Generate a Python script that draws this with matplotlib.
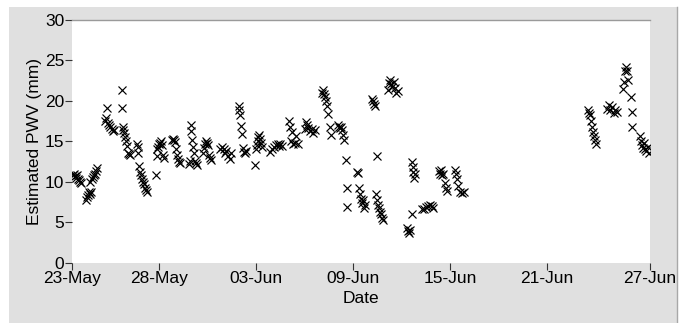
import numpy as np
import matplotlib
matplotlib.use("Agg")
import matplotlib.pyplot as plt
from matplotlib.patches import Rectangle
from matplotlib.lines import Line2D

# ---------------- data ----------------
start_date = "2013-05-23"

day_offsets = [
    -0.30, -0.23, -0.17, -0.11, -0.05, 0.01, 0.07, 0.14, 0.20,
    0.51, 0.57, 0.63, 0.69, 0.75, 0.82,
    0.75, 0.85, 0.94, 1.00, 1.06, 1.12, 1.19,
    1.68, 1.74, 1.80, 1.84, 1.93, 1.99, 2.11, 2.18, 2.24,
    2.73, 2.75, 2.77, 2.79, 2.86, 2.92, 2.98, 3.04, 3.10, 3.16, 3.23,
    3.66, 3.69, 3.72, 3.78, 3.84, 3.91, 3.97, 4.03, 4.09, 4.15, 4.21, 4.28,
    4.86,
    4.88, 4.89, 4.96, 5.02, 5.08, 5.14, 5.20, 5.27, 5.33,
    5.82, 5.88, 5.95, 6.01, 6.07, 6.13, 6.19, 6.26, 6.32,
    6.87, 6.93, 6.99, 7.02, 7.06, 7.12, 7.18, 7.24, 7.30, 7.37,
    7.74, 7.80, 7.86, 7.93, 7.99, 8.05, 8.11, 8.17, 8.23,
    8.79, 8.91, 9.03, 9.10, 9.16, 9.28, 9.40, 9.47,
    9.96, 9.99, 10.02, 10.09, 10.15, 10.21, 10.27, 10.33, 10.39,
    10.95, 11.02, 11.08, 11.11, 11.14, 11.20, 11.27, 11.33, 11.39,
    11.88, 12.00, 12.13, 12.25, 12.37, 12.43, 12.50, 12.62,
    13.08, 13.12, 13.20, 13.26, 13.33, 13.42, 13.50, 13.58,
    14.05, 14.11, 14.17, 14.24, 14.36, 14.48, 14.54, 14.67,
    15.10, 15.17, 15.23, 15.29, 15.35, 15.41, 15.47, 15.60, 15.66,
    16.08, 16.14, 16.21, 16.27, 16.33, 16.39, 16.45, 16.58, 16.61, 16.64,
    17.26, 17.32, 17.38, 17.44, 17.50, 17.56, 17.63, 17.69, 17.75,
    18.18, 18.24, 18.30, 18.37,
    18.46,
    18.43, 18.49, 18.55, 18.61, 18.67, 18.74, 18.80, 18.86,
    19.17, 19.23, 19.29, 19.35, 19.42, 19.54, 19.60, 19.66, 19.78,
    20.34, 20.40, 20.47, 20.53, 20.65,
    20.65, 20.71, 20.74, 20.77, 20.84,
    21.27, 21.40, 21.52, 21.64, 21.77, 21.89, 21.95,
    22.32, 22.38, 22.44, 22.51, 22.57, 22.69, 22.75, 22.82,
    23.31, 23.37, 23.43, 23.50, 23.62, 23.74, 23.87,
    31.53, 31.59, 31.65, 31.72, 31.78, 31.84, 31.90, 31.96, 32.02,
    32.72, 32.84, 32.90, 33.03, 33.15, 33.21, 33.34,
    33.69, 33.76, 33.82, 33.88, 33.94, 34.00, 34.17, 34.23, 34.25,
    34.75, 34.81, 34.87, 34.93, 35.00, 35.06, 35.12, 35.24, 35.30,
]

pwv_mm = [
    10.9, 11.0, 10.7, 10.5, 10.8, 10.3, 10.2, 10.0, 9.9,
    7.8, 8.1, 8.4, 8.7, 8.5, 8.8,
    10.0, 10.3, 10.6, 10.8, 11.0, 11.3, 11.7,
    17.5, 17.9, 19.1, 17.2, 17.0, 16.7, 16.5, 16.3, 16.4,
    21.3, 19.1, 16.7, 16.4, 16.0, 15.5, 15.0, 14.4, 13.6, 13.4, 13.3,
    14.6, 14.3, 13.5, 12.0, 11.2, 10.8, 10.4, 10.0, 9.7, 9.3, 9.0, 8.8,
    10.8,
    13.2, 14.0, 14.3, 14.6, 14.8, 15.0, 14.5, 13.3, 12.9,
    15.2, 15.3, 15.1, 14.9, 14.0, 13.3, 12.8, 12.4, 12.3,
    12.2, 12.6, 17.0, 16.3, 15.2, 14.3, 13.5, 12.6, 12.3, 12.1,
    13.5, 14.2, 14.6, 15.0, 14.8, 14.5, 13.3, 12.9, 12.7,
    14.0, 14.3, 14.0, 13.5, 13.8, 13.2, 12.8, 13.5,
    19.4, 18.8, 18.2, 16.9, 15.9, 14.2, 13.7, 13.5, 13.8,
    12.1, 14.0, 14.5, 15.0, 15.5, 15.8, 15.3, 14.8, 14.3,
    13.7, 14.1, 14.3, 14.5, 14.6, 14.4, 14.6, 14.4,
    17.5, 16.8, 15.0, 16.2, 14.6, 14.8, 15.6, 14.7,
    16.5, 17.4, 17.0, 16.6, 16.3, 16.5, 16.0, 16.4,
    21.0, 21.3, 20.8, 20.4, 19.9, 19.3, 18.4, 16.8, 15.8,
    17.0, 16.8, 16.6, 16.8, 16.4, 15.8, 15.2, 12.7, 9.2, 6.9,
    11.2, 11.1, 9.2, 8.5, 7.9, 7.4, 7.8, 6.8, 7.2,
    20.2, 19.9, 19.6, 19.3,
    13.2,
    8.5, 7.8, 7.2, 6.8, 6.3, 6.0, 5.6, 5.3,
    21.3, 22.2, 22.6, 22.0, 21.7, 22.3, 21.5, 21.0, 21.2,
    4.3, 3.9, 3.7, 4.1, 6.0,
    12.4, 11.8, 11.2, 10.5, 11.0,
    6.6, 6.7, 6.9, 7.0, 7.2, 7.0, 6.8,
    11.3, 11.0, 11.5, 10.8, 11.0, 9.8, 9.3, 8.9,
    11.5, 11.0, 10.4, 9.5, 8.8, 8.6, 8.7,
    18.9, 18.5, 18.2, 17.5, 16.8, 16.2, 15.6, 15.1, 14.7,
    19.0, 19.5, 18.8, 19.2, 18.5, 18.8, 18.6,
    21.4, 22.3, 23.6, 24.1, 23.6, 22.5, 20.4, 18.6, 16.7,
    15.6, 15.0, 14.5, 14.2, 14.8, 14.0, 13.8, 14.3, 13.6,
]

x_tick_offsets = [-0.358, 5, 11, 17, 23, 29, 35.33]
x_tick_labels = ["23-May", "28-May", "03-Jun", "09-Jun", "15-Jun", "21-Jun", "27-Jun"]
y_ticks = [0, 5, 10, 15, 20, 25, 30]

# ---------------- plot ----------------
plt.rcParams["font.family"] = ["Liberation Sans", "DejaVu Sans"]

base = np.datetime64(start_date, "s")
def to_dates(offs):
    return base + (np.asarray(offs) * 86400).astype("timedelta64[s]")

times = to_dates(day_offsets)

fig = plt.figure(figsize=(6.88, 3.23), dpi=100, facecolor="white")
# grey panel background
fig.patches.append(Rectangle((9 / 688, 0.0), (677 - 9) / 688, (323 - 7) / 323,
                             transform=fig.transFigure, facecolor="#e0e0e0",
                             edgecolor="none", zorder=-5))
fig.lines.append(Line2D([677 / 688, 677 / 688], [0.0, 1 - 7 / 323],
                        transform=fig.transFigure, color="#a8a8a8", lw=1.0,
                        zorder=-4))

ax = fig.add_axes([72 / 688, 1 - 263 / 323, (649.5 - 72) / 688, (263 - 19.5) / 323])
ax.set_zorder(2)
ax.set_facecolor("white")
ax.plot(times, pwv_mm, linestyle="none", marker="x", markersize=6.0,
        markeredgewidth=0.85, color="black", clip_on=True)

tick_dates = to_dates(x_tick_offsets)
ax.set_xlim(tick_dates[0], tick_dates[-1])
ax.set_xticks(tick_dates)
ax.set_xticklabels(x_tick_labels)
ax.set_ylim(0, 30)
ax.set_yticks(y_ticks)

for s in ["left", "right", "bottom"]:
    ax.spines[s].set_visible(False)
ax.spines["top"].set_color("#9a9a9a")
ax.spines["top"].set_linewidth(1.0)

ax.tick_params(axis="both", direction="out", length=5.2, width=0.8,
               color="#333333", labelsize=12.5, labelcolor="black", pad=0.5)
ax.tick_params(axis="y", pad=0.3)

ax.set_xlabel("Date", fontsize=12.5, labelpad=4)
ax.set_ylabel("Estimated PWV (mm)", fontsize=12.5, labelpad=2)

fig.savefig("out.png", dpi=100, facecolor=fig.get_facecolor())
